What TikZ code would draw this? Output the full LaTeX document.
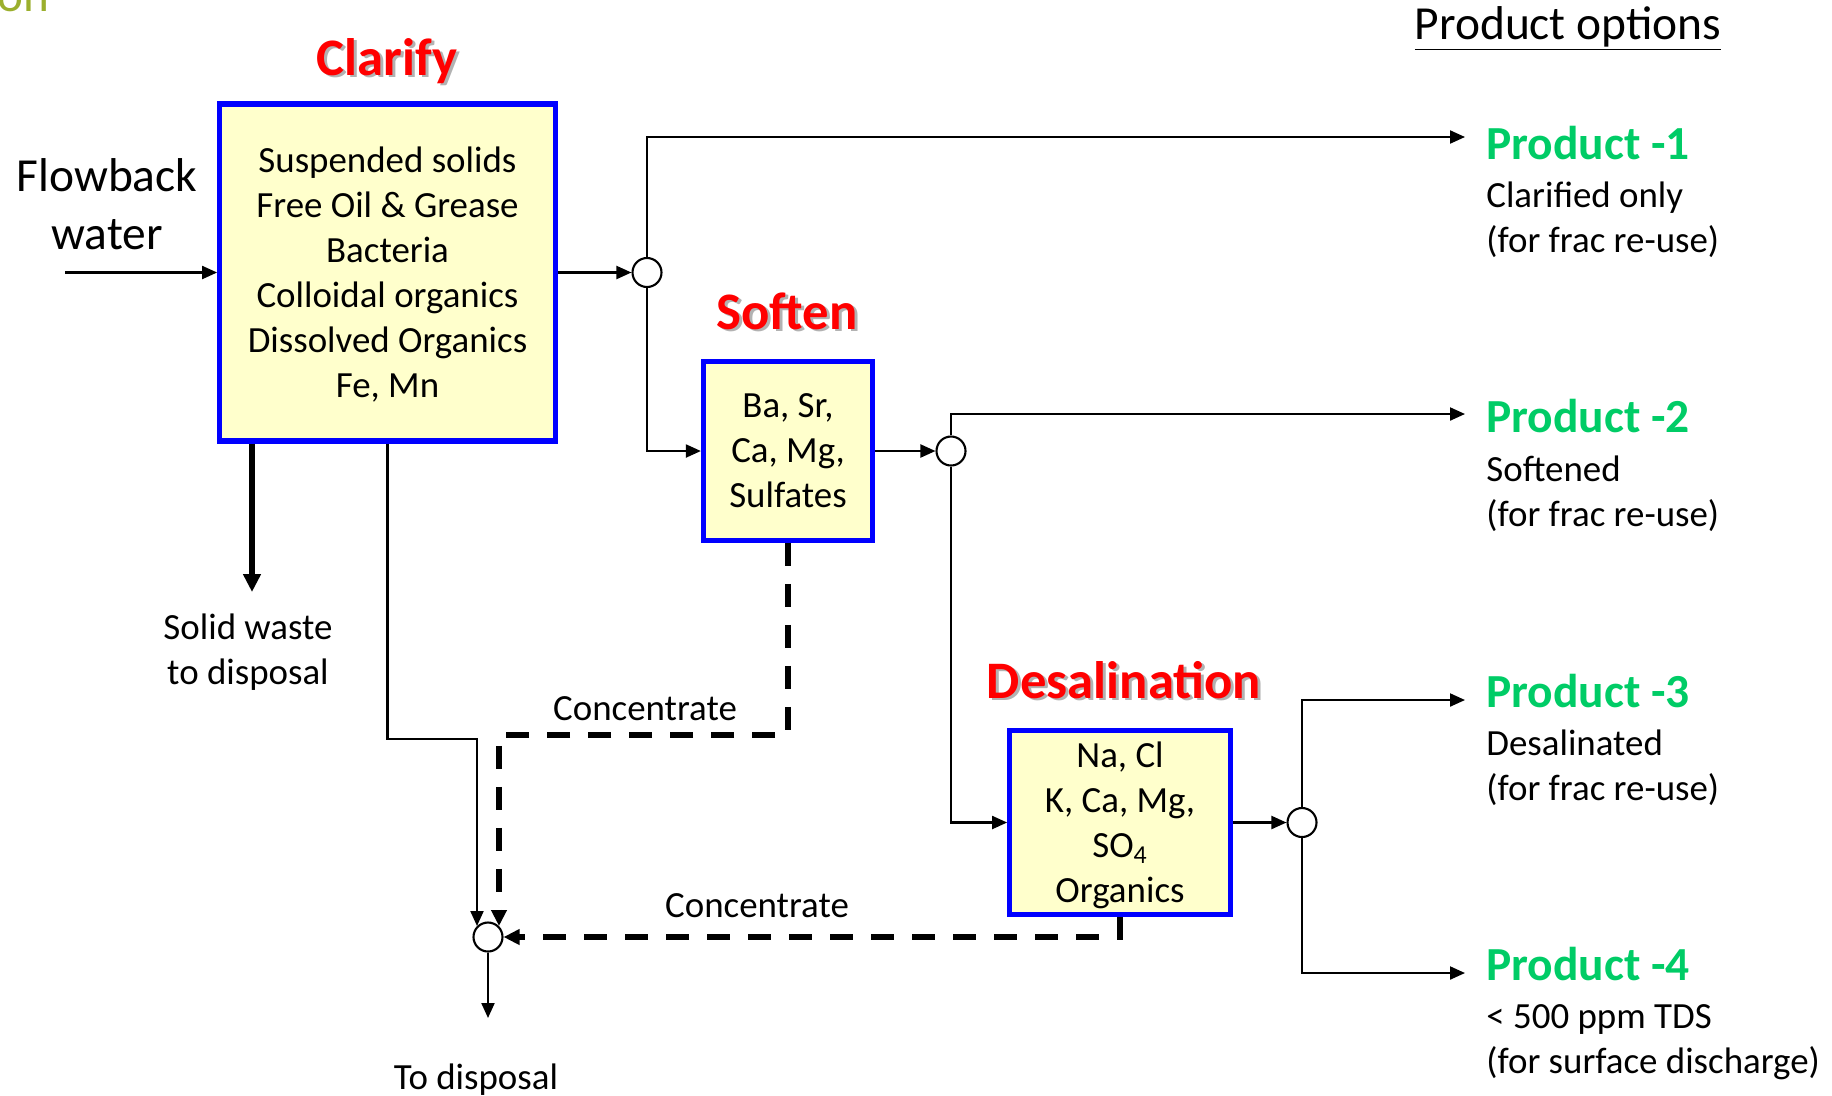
\documentclass[tikz,border=0pt]{standalone}
\usepackage{fontspec}
\setmainfont{Carlito}
\usetikzlibrary{shapes,arrows.meta,positioning}

\definecolor{boxfill}{RGB}{255,255,204}
\definecolor{prodgreen}{RGB}{0,204,102}
\definecolor{titlered}{RGB}{255,0,0}
\definecolor{slideolive}{RGB}{155,175,45}
\newcommand{\shadowed}[1]{\makebox[0pt][l]{\hspace{1.6pt}\raisebox{-1.6pt}{\textcolor{black!30}{#1}}}#1}

\begin{document}
\begin{tikzpicture}[auto, node distance=2cm, >={Triangle[length=3mm,width=2.6mm]}]
    \tikzset{font={\fontsize{21pt}{25.6pt}\selectfont}}
    \tikzset{proc/.style={draw=blue, line width=3pt, fill=boxfill, align=center, inner sep=0pt, text depth=0pt},
      junc/.style={circle, draw, line width=1.2pt, fill=white, minimum size=5.8mm, inner sep=0pt},
      ttl/.style={text=titlered, anchor=base, inner sep=0pt, font={\fontsize{30pt}{36pt}\selectfont\bfseries}},
      prod/.style={text=prodgreen, anchor=base west, inner sep=0pt, font={\fontsize{27pt}{32pt}\selectfont\bfseries}},
      note/.style={anchor=base, align=center, inner sep=0pt},
      desc/.style={anchor=base west, align=left, inner sep=0pt},
      flow/.style={line width=1.2pt, ->},
      conc/.style={line width=3.4pt, dash pattern=on 4.6mm off 3.6mm, -{Triangle[length=3.2mm,width=3mm]}}}
    \useasboundingbox (0,0) rectangle (36.64,-21.9);
    \clip (0,0) rectangle (36.64,-21.9);
    \node[anchor=base west, inner sep=0pt, text=slideolive, font={\fontsize{28pt}{34pt}\selectfont}] (ttlfrag) at (-0.06,-0.22) {on};
    \node[note, font={\fontsize{27pt}{33pt}\selectfont}] (options) at (31.36,-0.78) {\underline{Product options}};

    \node[proc, minimum width=6.71cm, minimum height=6.74cm] (clarify) at (7.75,-5.45) {Suspended solids\\Free Oil \& Grease\\Bacteria\\Colloidal organics\\Dissolved Organics\\Fe, Mn};
    \node[proc, minimum width=3.38cm, minimum height=3.57cm] (soften) at (15.76,-9.02) {Ba, Sr,\\Ca, Mg,\\Sulfates};
    \node[proc, minimum width=4.41cm, minimum height=3.69cm] (desal) at (22.4,-16.45) {Na, Cl\\K, Ca, Mg,\\SO\textsubscript{4}\\Organics};
    \node[ttl] (clarifyttl) at (7.74,-1.5) {\shadowed{Clarify}};
    \node[ttl] (softenttl) at (15.74,-6.58) {\shadowed{Soften}};
    \node[ttl] (desalttl) at (22.48,-13.96) {\shadowed{Desalination}};

    \node[junc, right of=clarify, node distance=5.19cm] (j1) {};
    \node[junc, right of=soften, node distance=3.26cm] (j2) {};
    \node[junc, right of=desal, node distance=3.64cm] (j3) {};
    \node[junc] (j4) at (9.76,-18.74) {};

    \node[note, font={\fontsize{27pt}{33pt}\selectfont}] (feedlbl) at (2.14,-4.98) {Flowback\\water};
    \node[note] (wastelbl) at (4.96,-13.68) {Solid waste\\to disposal};
    \node[note] (conc1) at (12.9,-14.4) {Concentrate};
    \node[note] (conc2) at (15.14,-18.34) {Concentrate};
    \node[note] (dumplbl) at (9.52,-21.78) {To disposal};

    \node[prod] (p1) at (29.72,-3.18) {Product -1};
    \node[desc] (p1txt) at (29.72,-5.04) {Clarified only\\(for frac re-use)};
    \node[prod] (p2) at (29.72,-8.64) {Product -2};
    \node[desc] (p2txt) at (29.72,-10.52) {Softened\\(for frac re-use)};
    \node[prod] (p3) at (29.72,-14.14) {Product -3};
    \node[desc] (p3txt) at (29.72,-16.0) {Desalinated\\(for frac re-use)};
    \node[prod] (p4) at (29.72,-19.6) {Product -4};
    \node[desc] (p4txt) at (29.72,-21.46) {< 500 ppm TDS\\(for surface discharge)};

    \coordinate (feed) at (1.3,-5.45);
    \coordinate (out1) at (29.3,-2.74);
    \coordinate (out2) at (29.3,-8.28);
    \coordinate (out3) at (29.3,-14.0);
    \coordinate (out4) at (29.3,-19.46);
    \coordinate (waste) at (5.04,-11.84);
    \coordinate (dump) at (9.76,-20.36);
    \coordinate (bend) at (0,-14.78);
    \coordinate (bend2) at (0,-14.7);

    \draw[flow] (feed) -- (clarify);
    \draw[flow] (clarify) -- (j1);
    \draw[flow] (j1) |- (out1);
    \draw[flow] (j1) |- (soften);
    \draw[flow] (soften) -- (j2);
    \draw[flow] (j2) |- (out2);
    \draw[flow] (j2) |- (desal);
    \draw[flow] (desal) -- (j3);
    \draw[flow] (j3) |- (out3);
    \draw[flow] (j3) |- (out4);
    \draw[line width=3.4pt, -{Triangle[length=3.6mm,width=3.4mm]}] (waste |- clarify.south) -- (waste);
    \draw[flow] (clarify.south) |- (bend -| j4.north west) -- (j4.north west);
    \draw[conc] (soften.south) |- (bend2 -| j4.north east) -- (j4.north east);
    \draw[conc] (desal.south) |- (j4);
    \draw[flow] (j4) -- (dump);
\end{tikzpicture}
\end{document}
